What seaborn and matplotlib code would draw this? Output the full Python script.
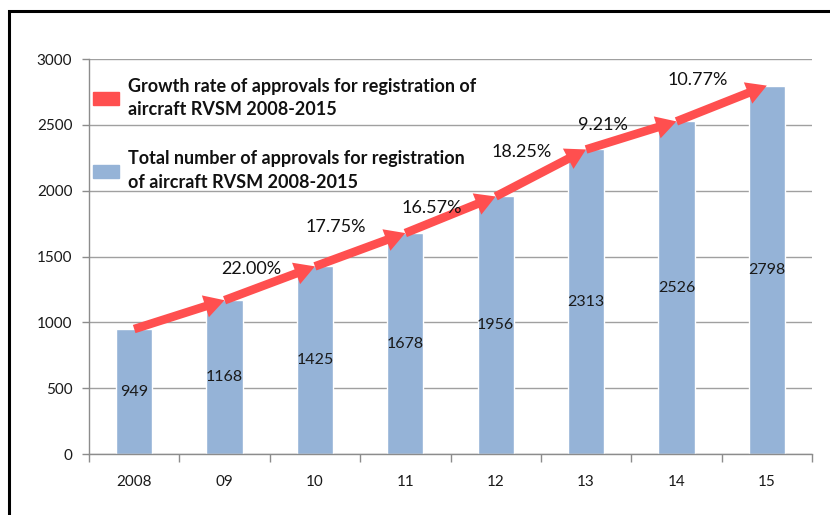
import matplotlib
matplotlib.use("Agg")
import matplotlib.pyplot as plt
from matplotlib.patches import Patch, Rectangle
from matplotlib.ticker import FixedLocator
import seaborn as sns
import pandas as pd

# data
years = ["2008", "09", "10", "11", "12", "13", "14", "15"]
totals = [949, 1168, 1425, 1678, 1956, 2313, 2526, 2798]
# growth rate shown on the segments 09->10 ... 14->15
growth = [22.00, 17.75, 16.57, 18.25, 9.21, 10.77]
yticks = [0, 500, 1000, 1500, 2000, 2500, 3000]

legend_labels = ["Growth rate of approvals for registration of\naircraft RVSM 2008-2015",
                 "Total number of approvals for registration\nof aircraft RVSM 2008-2015"]

bar_color = "#95B3D7"
red = "#FF4F4F"
grey = "#A0A0A0"

sns.set_theme(style="white")
plt.rcParams["font.family"] = ["Lato", "DejaVu Sans"]

df = pd.DataFrame({"year": years, "total": totals})

fig = plt.figure(figsize=(8.3, 5.15), dpi=100)
ax = fig.add_axes([89 / 830, 1 - 454 / 515, 723 / 830, 395 / 515])

sns.barplot(data=df, x="year", y="total", color=bar_color, saturation=1,
            width=0.4, ax=ax)
ax.bar_label(ax.containers[0], label_type="center", fontsize=11.5, color="#1a1a1a")

# arrows between bar tops
for i in range(len(totals) - 1):
    ax.annotate("", xy=(i + 1, totals[i + 1]), xytext=(i, totals[i]),
                arrowprops=dict(arrowstyle="simple,head_length=1.45,head_width=1.65,tail_width=0.62",
                                color=red, lw=0, shrinkA=0, shrinkB=0,
                                mutation_scale=10), zorder=5)

# growth labels (x offset from segment start, y in data units)
label_pos = [(1.30, 1405), (2.23, 1724), (3.29, 1868), (4.29, 2294), (5.19, 2499), (6.23, 2840)]
for g, (lx, ly) in zip(growth, label_pos):
    ax.text(lx, ly, f"{g:.2f}%", ha="center", va="center", fontsize=13, color="#111111", zorder=6)

ax.set_ylim(0, 3000)
ax.set_xlim(-0.5, len(years) - 0.5)
ax.set_yticks(yticks)
ax.set_xlabel("")
ax.set_ylabel("")
ax.yaxis.grid(True, color=grey, lw=1)
ax.set_axisbelow(True)

for s in ["top", "right"]:
    ax.spines[s].set_visible(False)
for s in ["left", "bottom"]:
    ax.spines[s].set_color("#8C8C8C")
    ax.spines[s].set_linewidth(1)

ax.tick_params(axis="y", length=5, color="#8C8C8C", width=1, pad=7, labelsize=11,
               labelcolor="#1a1a1a", left=True)
ax.tick_params(axis="x", which="major", length=0, pad=15, labelsize=11, labelcolor="#1a1a1a")
ax.xaxis.set_minor_locator(FixedLocator([i - 0.5 for i in range(len(years) + 1)]))
ax.tick_params(axis="x", which="minor", length=6, color="#8C8C8C", width=1, bottom=True)

handles = [Patch(color=red), Patch(color=bar_color)]
leg = ax.legend(handles, legend_labels, loc="upper left", bbox_to_anchor=(0.0, 0.962),
                frameon=False, handlelength=1.45, handleheight=0.7, handletextpad=0.5,
                borderaxespad=0, borderpad=0.2, labelspacing=1.8,
                prop={"weight": "bold", "size": 13})
for t in leg.get_texts():
    t.set_linespacing(1.45)
    t.set_color("#111111")

# black frame around the chart area
fig.patches.append(Rectangle((9 / 830, -0.2), 1.2, 1.2 - 11 / 515, transform=fig.transFigure,
                             fill=False, ec="black", lw=2.2))

fig.savefig("out.png", dpi=100)
